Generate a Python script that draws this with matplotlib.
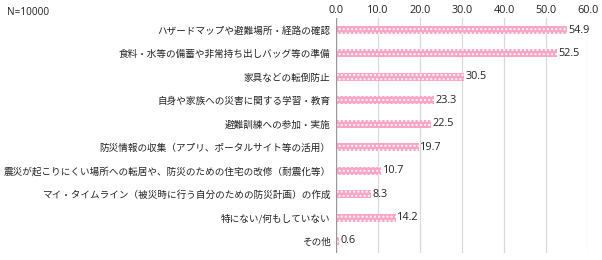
import matplotlib
matplotlib.use("Agg")
import matplotlib.pyplot as plt

plt.rcParams['font.family'] = ['Noto Sans CJK JP', 'DejaVu Sans']
plt.rcParams['hatch.linewidth'] = 1.0

categories = [
    "ハザードマップや避難場所・経路の確認",
    "食料・水等の備蓄や非常持ち出しバッグ等の準備",
    "家具などの転倒防止",
    "自身や家族への災害に関する学習・教育",
    "避難訓練への参加・実施",
    "防災情報の収集（アプリ、ポータルサイト等の活用）",
    "震災が起こりにくい場所への転居や、防災のための住宅の改修（耐震化等）",
    "マイ・タイムライン（被災時に行う自分のための防災計画）の作成",
    "特にない/何もしていない",
    "その他",
]
values = [54.9, 52.5, 30.5, 23.3, 22.5, 19.7, 10.7, 8.3, 14.2, 0.6]
ticks = [0, 10, 20, 30, 40, 50, 60]
tick_labels = ["0.0", "10.0", "20.0", "30.0", "40.0", "50.0", "60.0"]
note = "N=10000"

fig = plt.figure(figsize=(6.02, 2.60), dpi=100)
ax = fig.add_axes([336/602, 1-252.7/260, 252/602, (252.7-18.3)/260])

y = list(range(len(categories)))
ax.barh(y, values, height=0.34, color='#ffa3c4', edgecolor='white',
        linewidth=0, hatch='....', zorder=3)

ax.set_xlim(0, 60)
ax.set_ylim(len(categories)-0.5, -0.5)
ax.set_xticks(ticks)
ax.set_xticklabels(tick_labels, fontsize=7.8, family=['Open Sans', 'DejaVu Sans'], color='#222222')
ax.xaxis.tick_top()
ax.tick_params(axis='x', length=0, pad=2)
ax.set_yticks(y)
ax.set_yticklabels(categories, fontsize=6.9, color='#222222')
ax.tick_params(axis='y', length=0, pad=4)
for t in ticks[1:]:
    ax.axvline(t, color='#d9d9d9', linewidth=0.9, zorder=1)
ax.axvline(0, color='#999999', linewidth=1.0, zorder=4)
for s in ax.spines.values():
    s.set_visible(False)

for yi, v in zip(y, values):
    ax.text(v + 0.4, yi, f"{v:.1f}", va='center', ha='left', fontsize=7.8,
            family=['Open Sans', 'DejaVu Sans'], color='#222222')

fig.text(7/602, 1-12/260, note, fontsize=7.2, va='center', ha='left',
         family=['Open Sans', 'DejaVu Sans'], color='#222222')

fig.savefig("out.png", dpi=100)
